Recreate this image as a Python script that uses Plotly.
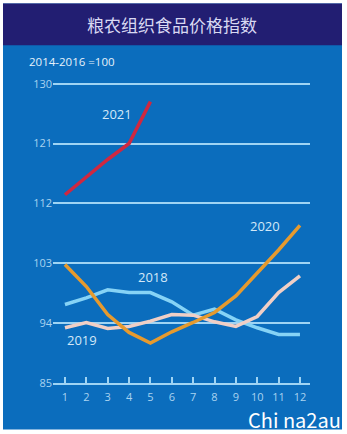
import plotly.graph_objects as go

# FAO Food Price Index, monthly (2014-2016 = 100)
months = list(range(1, 13))
months_2021 = [1, 2, 3, 4, 5]
fpi_2018 = [96.8, 97.8, 99.0, 98.6, 98.6, 97.2, 95.2, 96.1, 94.5, 93.3, 92.3, 92.3]
fpi_2019 = [93.3, 94.1, 93.2, 93.5, 94.3, 95.3, 95.2, 94.2, 93.5, 95.0, 98.6, 101.1]
fpi_2020 = [102.8, 99.5, 95.3, 92.6, 91.0, 92.7, 94.1, 95.6, 98.1, 101.6, 105.0, 108.7]
fpi_2021 = [113.3, 115.9, 118.6, 121.0, 127.3]

y_ticks = [85, 94, 103, 112, 121, 130]
x_ticks = months

title_text = "粮农组织食品价格指数"
base_text = "2014-2016 =100"

# plot area in pixels (347 x 434 page)
W, H = 347, 434
L, R = 53, 310
T, B = 76.7, 383.3


def px_x(x):
    return (x - L) / (R - L)


def px_y(y):
    return (B - y) / (B - T)


BLUE = "#0b6dbd"
NAVY = "#221e72"
GRID = "#9fd4f4"
LABEL = "#d3e8f8"
TICK = "#a9d3f0"

fig = go.Figure()

series = [
    ("2018", months, fpi_2018, "#86d3f6"),
    ("2019", months, fpi_2019, "#f0cfc6"),
    ("2020", months, fpi_2020, "#e69a2e"),
    ("2021", months_2021, fpi_2021, "#cf2840"),
]
for name, xs, ys, color in series:
    fig.add_trace(go.Scatter(
        x=xs, y=ys, name=name, mode="lines",
        line=dict(color=color, width=3.5),
        hoverinfo="x+y",
    ))

shapes = [
    # blue panel
    dict(type="rect", xref="paper", yref="paper", layer="below",
         x0=px_x(3), x1=px_x(342), y0=px_y(430), y1=px_y(3),
         fillcolor=BLUE, line=dict(width=0)),
    # title band
    dict(type="rect", xref="paper", yref="paper", layer="below",
         x0=px_x(3), x1=px_x(342), y0=px_y(45), y1=px_y(3),
         fillcolor=NAVY, line=dict(width=0)),
]

# year labels placed beside their lines
year_labels = [("2021", 3.43, 125.5), ("2020", 10.36, 108.6),
               ("2018", 5.12, 100.9), ("2019", 1.8, 91.5)]

annotations = [
    dict(text=title_text, xref="paper", yref="paper",
         x=px_x(172), y=px_y(24), yanchor="middle", showarrow=False,
         font=dict(family="Noto Sans CJK SC", size=17, color="#d9d9f2")),
    dict(text=base_text, xref="paper", yref="paper",
         x=px_x(27), y=px_y(61), xanchor="left", yanchor="middle",
         showarrow=False,
         font=dict(family="Open Sans", size=11.5, color="#e6f1fb")),
    dict(text="Chi na2au", xref="paper", yref="paper",
         x=px_x(343), y=px_y(420), xanchor="right", yanchor="middle",
         showarrow=False,
         font=dict(family="Noto Sans CJK SC", size=20, color="#ffffff")),
]
for text, x, y in year_labels:
    annotations.append(dict(
        text=text, x=x, y=y, showarrow=False,
        xanchor="center", yanchor="middle",
        font=dict(family="Open Sans", size=13, color=LABEL)))

fig.update_layout(
    width=W, height=H,
    margin=dict(l=L, r=W - R, t=T, b=H - B),
    paper_bgcolor="#ffffff",
    plot_bgcolor="rgba(0,0,0,0)",
    showlegend=False,
    shapes=shapes,
    annotations=annotations,
    xaxis=dict(
        range=[0.44, 12.47], tickvals=x_ticks,
        ticktext=[str(m) for m in x_ticks],
        showgrid=False, zeroline=False,
        showline=True, linecolor=GRID, linewidth=2,
        ticks="inside", ticklen=6, tickwidth=1.5, tickcolor=GRID,
        tickfont=dict(family="Open Sans", size=11, color=TICK),
        ticklabelstandoff=3,
    ),
    yaxis=dict(
        range=[85, 131], tickvals=y_ticks,
        ticktext=[str(v) for v in y_ticks],
        showgrid=True, gridcolor=GRID, gridwidth=2,
        zeroline=False, showline=False, ticks="",
        tickfont=dict(family="Open Sans", size=11, color=TICK),
    ),
)

fig.write_html("out.html")
